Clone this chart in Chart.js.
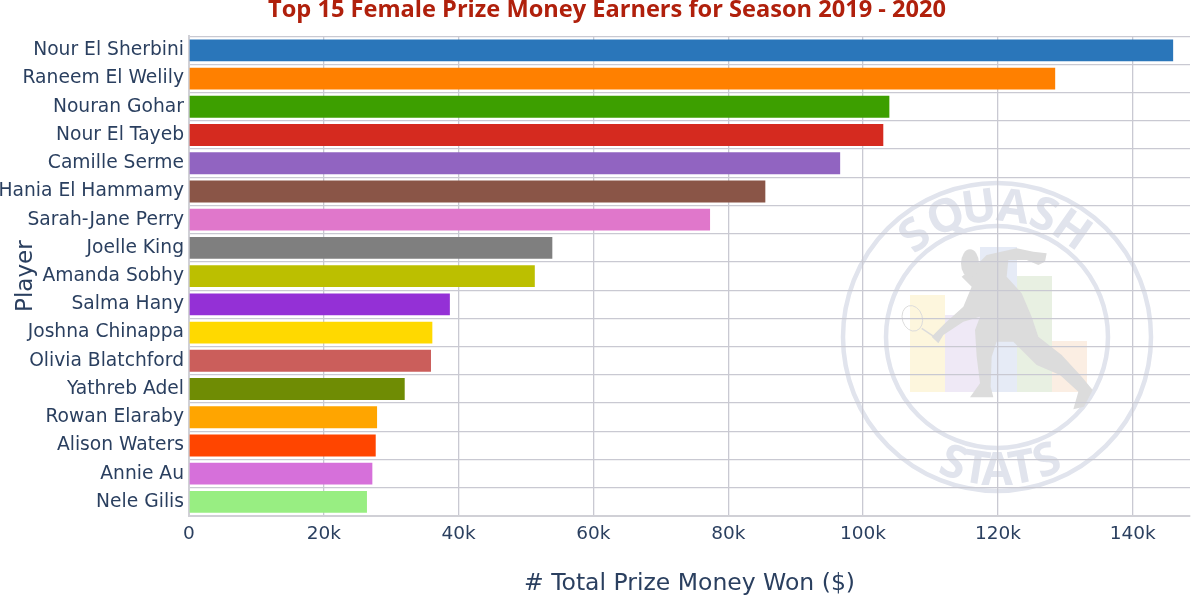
<!DOCTYPE html>
<html><head><meta charset="utf-8">
<style>html,body{margin:0;padding:0;background:#fff;overflow:hidden}canvas{display:block}</style>
<script src="https://cdn.jsdelivr.net/npm/chart.js@4"></script></head>
<body><canvas id="c" width="1200" height="600"></canvas>
<script>
const players=["Nour El Sherbini","Raneem El Welily","Nouran Gohar","Nour El Tayeb","Camille Serme","Hania El Hammamy","Sarah-Jane Perry","Joelle King","Amanda Sobhy","Salma Hany","Joshna Chinappa","Olivia Blatchford","Yathreb Adel","Rowan Elaraby","Alison Waters","Annie Au","Nele Gilis"];
const prizeMoney=[146000,128500,103900,103000,96600,85500,77300,53900,51300,38700,36100,35900,32000,27900,27700,27200,26400];
const barColors=["#2a76ba","#ff8000","#3d9f00","#d52a1f","#9164c1","#8a5547","#e077cb","#7f7f7f","#bcbf00","#9430d6","#ffd900","#cb5e5b","#6f8c04","#ffa500","#ff4500","#d670da","#98ee82"];
const xTickValues=[0,20000,40000,60000,80000,100000,120000,140000];
const titleText="Top 15 Female Prize Money Earners for Season 2019 - 2020";
const xTitle="# Total Prize Money Won ($)";
const yTitle="Player";
const ink="#2a3f5f";

const watermark={id:"watermark",beforeDraw(chart){
  chart.titleBlock.left=24;
  const g=chart.ctx,cx=997,cy=337,ring="#e1e4ed";
  g.save();
  [[910,295,35,97,"#fdf6dd"],[945,315,35,77,"#efe9f6"],[980,247,37,145,"#e6ebf6"],[1017,276,35,116,"#e8f0e2"],[1052,341,35,51,"#fbeee3"]].forEach(b=>{g.fillStyle=b[4];g.fillRect(b[0],b[1],b[2],b[3]);});
  g.strokeStyle=ring;g.lineWidth=4.5;
  g.beginPath();g.arc(cx,cy,154,0,Math.PI*2);g.stroke();
  g.beginPath();g.arc(cx,cy,111,0,Math.PI*2);g.stroke();
  g.fillStyle=ring;g.font="bold 46px 'Open Sans'";g.textAlign="center";g.textBaseline="alphabetic";
  [["S",-39],["Q",-23],["U",-8],["A",7],["S",21],["H",35]].forEach(l=>{g.save();g.translate(cx,cy);g.rotate(l[1]*Math.PI/180);g.fillText(l[0],0,-116);g.restore();});
  [["S",19],["T",9],["A",0],["T",-11],["S",-22]].forEach(l=>{g.save();g.translate(cx,cy);g.rotate(l[1]*Math.PI/180);g.fillText(l[0],0,148);g.restore();});
  const X=v=>830+v/3,Y=v=>170+v/3;
  const body=[[470,255],[560,235],[610,245],[650,250],[645,275],[625,285],[590,270],[535,270],[530,320],[575,370],[605,440],[625,500],[695,555],[755,620],[788,660],[762,710],[730,718],[745,665],[690,615],[620,585],[550,515],[500,515],[485,560],[482,650],[490,682],[420,682],[450,640],[440,560],[435,480],[450,440],[400,455],[340,495],[325,520],[305,500],[345,460],[400,410],[425,350],[395,320],[440,285]];
  g.fillStyle="#dcdcdc";g.beginPath();body.forEach((p,i)=>i?g.lineTo(X(p[0]),Y(p[1])):g.moveTo(X(p[0]),Y(p[1])));g.closePath();g.fill();
  g.beginPath();g.ellipse(X(420),Y(280),9,14,0,0,Math.PI*2);g.fill();
  g.strokeStyle="#dcdcdc";g.lineWidth=1;g.beginPath();g.ellipse(X(247),Y(445),10,13,-0.3,0,Math.PI*2);g.stroke();
  g.lineWidth=1.5;g.beginPath();g.moveTo(X(275),Y(475));g.lineTo(X(312),Y(500));g.stroke();
  g.restore();
}};

new Chart(document.getElementById("c"),{
  type:"bar",
  data:{labels:players,datasets:[{data:prizeMoney,backgroundColor:barColors,borderWidth:0,barPercentage:0.775,categoryPercentage:1}]},
  plugins:[watermark],
  options:{
    indexAxis:"y",responsive:false,animation:false,devicePixelRatio:1,
    layout:{padding:{left:0,right:10,top:0,bottom:0}},
    plugins:{legend:{display:false},tooltip:{enabled:false},
      title:{display:true,text:titleText,color:"#b0200c",font:{family:"'Open Sans'",size:23.6,weight:"bold",lineHeight:0.9},padding:{top:0,bottom:15}}},
    scales:{
      x:{type:"linear",min:0,max:148500,position:"bottom",
        afterFit(s){s.height=84;},
        afterBuildTicks(s){s.ticks=xTickValues.map(v=>({value:v}));},
        grid:{color:"#c9c9d2",lineWidth:1.3,drawTicks:false},border:{color:"#d0d0d6",width:2},
        ticks:{autoSkip:false,maxRotation:0,color:ink,padding:7,font:{family:"'DejaVu Sans'",size:18.5},callback:v=>v===0?"0":(v/1000)+"k"},
        title:{display:true,text:xTitle,color:ink,font:{family:"'DejaVu Sans'",size:23.5},padding:{top:0,bottom:2}}},
      y:{type:"category",
        afterFit(s){s.width=189;},
        grid:{color:"#c9c9d2",lineWidth:1.3,drawTicks:false},border:{color:"#d0d0d6",width:2},
        ticks:{autoSkip:false,color:ink,padding:5,font:{family:"'DejaVu Sans'",size:18.7}},
        title:{display:true,text:yTitle,color:ink,font:{family:"'DejaVu Sans'",size:23},padding:{top:12,bottom:0}}}
    }
  }
});
</script></body></html>
